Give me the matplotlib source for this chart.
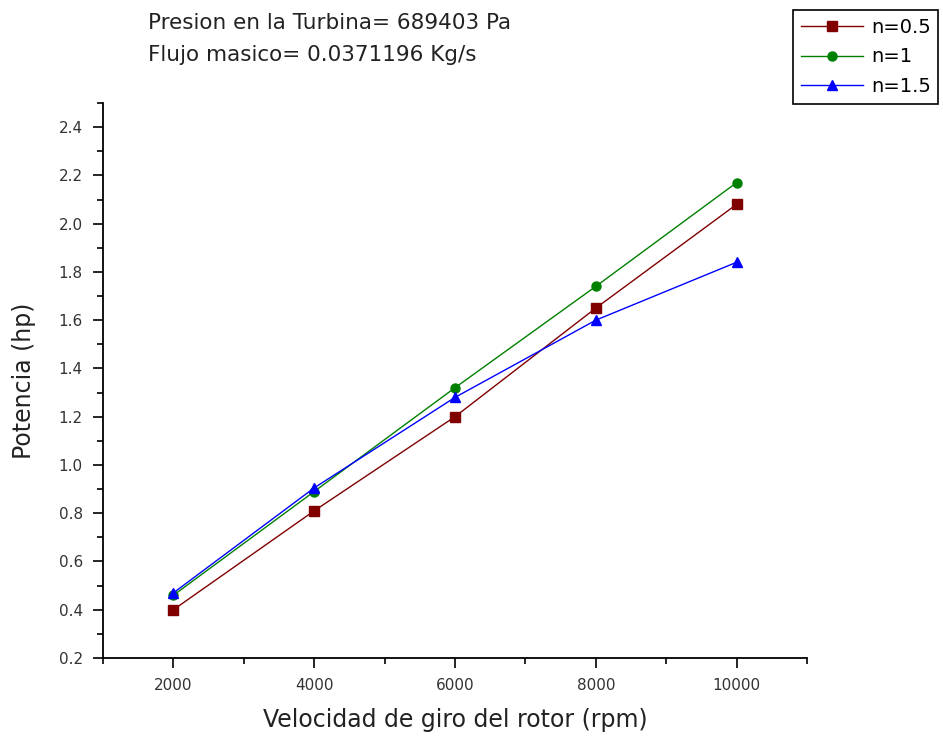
import matplotlib.pyplot as plt
from matplotlib.ticker import MultipleLocator

plt.rcParams['font.family'] = ['DejaVu Sans']

# Data
rpm = [2000, 4000, 6000, 8000, 10000]
pot_05 = [0.40, 0.81, 1.20, 1.65, 2.08]
pot_1 = [0.46, 0.89, 1.32, 1.74, 2.17]
pot_15 = [0.47, 0.905, 1.28, 1.60, 1.84]
labels = ['n=0.5', 'n=1', 'n=1.5']

fig = plt.figure(figsize=(9.43, 7.42), dpi=100)
ax = fig.add_axes([103/943, 1-658/742, (807-103)/943, (658-103)/742])

l1, = ax.plot(rpm, pot_05, marker='s', color='#800000', lw=1, ms=6.5, label=labels[0])
l2, = ax.plot(rpm, pot_1, marker='o', color='#008000', lw=1, ms=6.5, label=labels[1])
l3, = ax.plot(rpm, pot_15, marker='^', color='#0000ff', lw=1, ms=7.5, label=labels[2])

ax.set_xlim(1000, 11000)
ax.set_ylim(0.2, 2.5)
ax.xaxis.set_major_locator(MultipleLocator(2000))
ax.xaxis.set_minor_locator(MultipleLocator(1000))
ax.yaxis.set_major_locator(MultipleLocator(0.2))
ax.yaxis.set_minor_locator(MultipleLocator(0.1))
ax.yaxis.set_major_formatter(plt.FormatStrFormatter('%.1f'))

for s in ['top', 'right']:
    ax.spines[s].set_visible(False)
for s in ['left', 'bottom']:
    ax.spines[s].set_linewidth(1.3)
ax.tick_params(which='major', direction='out', length=7.5, width=1.2, labelsize=11, colors='black', labelcolor='#333333', pad=7)
ax.tick_params(which='minor', direction='out', length=4, width=1.2)

ax.set_xlabel('Velocidad de giro del rotor (rpm)', fontsize=17, labelpad=11, color='#222222')
ax.set_ylabel('Potencia (hp)', fontsize=17, labelpad=16, color='#222222')

fig.text(148/943, 1-23/742, 'Presion en la Turbina= 689403 Pa', fontsize=15.5, va='center', color='#222222')
fig.text(148/943, 1-55/742, 'Flujo masico= 0.0371196 Kg/s', fontsize=15.5, va='center', color='#222222')

leg = fig.legend(handles=[l1, l2, l3], loc='upper left', bbox_to_anchor=(793/943, 1-10/742),
                 fontsize=14, frameon=True, fancybox=False, edgecolor='black', framealpha=1,
                 handlelength=3.2, borderpad=0.4, labelspacing=0.55, handletextpad=0.4,
                 borderaxespad=0)
leg.get_frame().set_linewidth(1.2)

fig.savefig('out.png', dpi=100)
